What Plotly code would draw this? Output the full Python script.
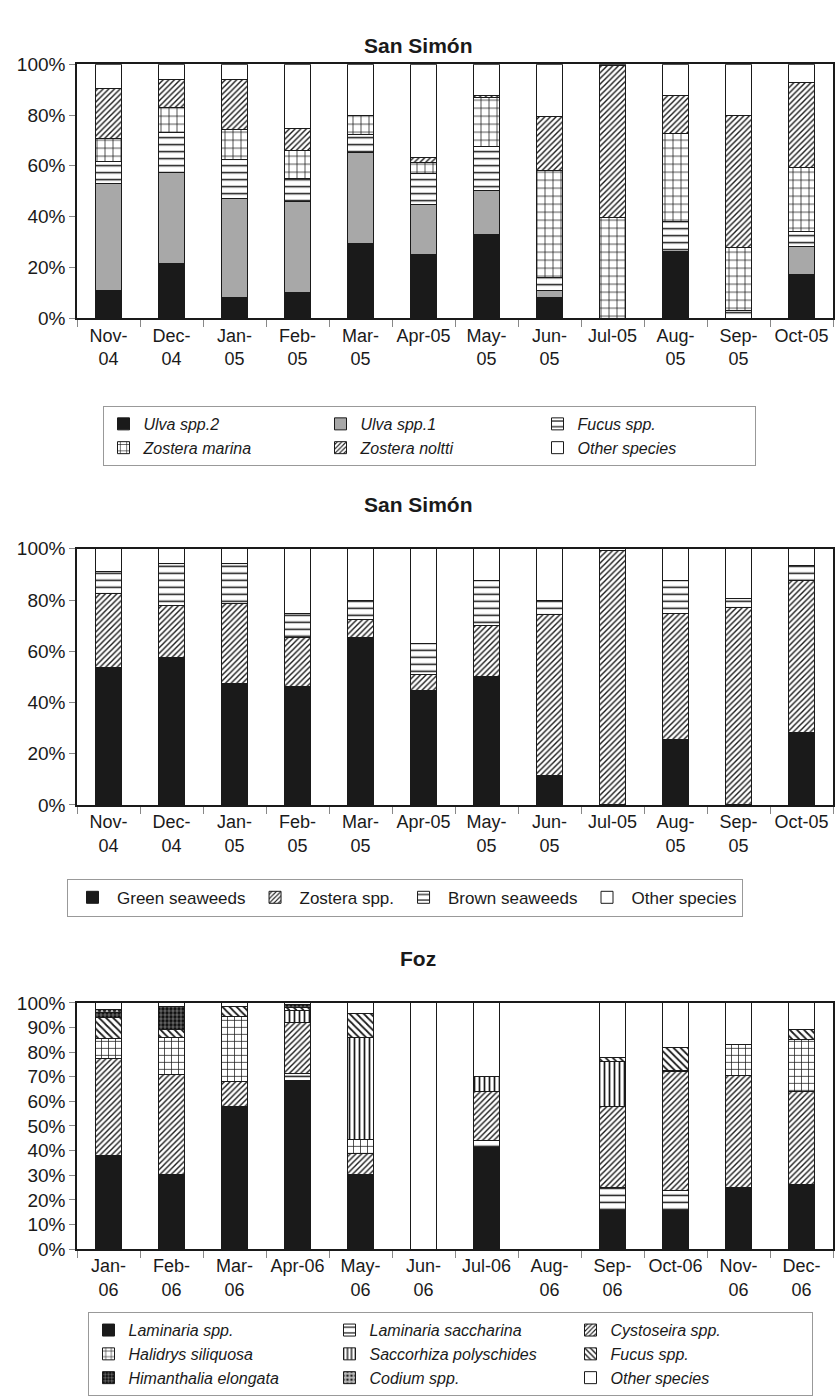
import plotly.graph_objects as go

# ---------------- data ----------------
months_ss = ["Nov-04", "Dec-04", "Jan-05", "Feb-05", "Mar-05", "Apr-05",
             "May-05", "Jun-05", "Jul-05", "Aug-05", "Sep-05", "Oct-05"]
ticks_ss = ["Nov-<br>04", "Dec-<br>04", "Jan-<br>05", "Feb-<br>05", "Mar-<br>05", "Apr-05",
            "May-<br>05", "Jun-<br>05", "Jul-05", "Aug-<br>05", "Sep-<br>05", "Oct-05"]

# San Simón, by species (% cover)
ulva2 = [11.0, 21.5, 8.1, 10.1, 29.4, 25.3, 33.0, 8.0, 0, 26.1, 0, 17.4]
ulva1 = [42.2, 35.9, 39.0, 35.8, 35.8, 19.5, 17.3, 3.0, 0, 0, 0, 11.0]
fucus_ss = [8.5, 15.9, 15.2, 9.3, 7.1, 12.0, 17.4, 5.1, 0, 12.0, 3.0, 5.8]
zostera_marina = [8.9, 9.5, 11.9, 11.0, 7.4, 4.5, 19.0, 42.0, 39.7, 34.8, 24.7, 25.2]
zostera_noltti = [20.0, 11.0, 19.6, 8.4, 0.3, 1.9, 0.8, 21.3, 59.7, 14.6, 52.3, 33.2]
other_ss1 = [9.4, 6.2, 6.2, 25.4, 20.0, 36.8, 12.5, 20.6, 0.6, 12.5, 20.0, 7.4]

# San Simón, by group (% cover)
green_seaweeds = [53.5, 57.7, 47.5, 46.2, 65.5, 44.5, 50.3, 11.5, 0, 25.5, 0, 28.4]
zostera_spp = [29.1, 20.1, 31.2, 19.0, 7.0, 6.5, 19.7, 62.7, 99.2, 49.1, 77.0, 59.3]
brown_seaweeds = [8.4, 16.3, 15.5, 9.4, 7.5, 12.0, 17.5, 5.5, 0.3, 13.0, 3.4, 5.6]
other_ss2 = [9.0, 5.9, 5.8, 25.4, 20.0, 37.0, 12.5, 20.3, 0.5, 12.4, 19.6, 6.7]

months_foz = ["Jan-06", "Feb-06", "Mar-06", "Apr-06", "May-06", "Jun-06",
              "Jul-06", "Aug-06", "Sep-06", "Oct-06", "Nov-06", "Dec-06"]
ticks_foz = ["Jan-<br>06", "Feb-<br>06", "Mar-<br>06", "Apr-06", "May-<br>06", "Jun-<br>06",
             "Jul-06", "Aug-<br>06", "Sep-<br>06", "Oct-06", "Nov-<br>06", "Dec-<br>06"]

# Foz, by species (% cover)
laminaria = [38.0, 30.5, 58.0, 68.5, 30.5, 0, 41.3, 0, 15.6, 15.6, 24.9, 26.3]
laminaria_sacch = [0, 0, 0, 3.0, 0, 0, 2.7, 0, 9.3, 8.4, 0, 0]
cystoseira = [39.3, 40.5, 10.0, 20.5, 8.2, 0, 20.0, 0, 33.1, 48.0, 45.8, 37.7]
halidrys = [8.2, 15.0, 26.5, 0, 6.0, 0, 0, 0, 0, 0, 12.3, 21.0]
saccorhiza = [0, 0, 0, 5.0, 41.3, 0, 6.0, 0, 18.0, 0.5, 0, 0]
fucus_foz = [8.5, 3.0, 4.0, 1.0, 9.6, 0, 0, 0, 2.0, 9.5, 0, 4.0]
himanthalia = [2.0, 9.5, 0, 1.5, 0, 0, 0, 0, 0, 0, 0, 0]
codium = [1.5, 0, 0, 0, 0, 0, 0, 0, 0, 0, 0, 0]
other_foz = [2.5, 1.5, 1.5, 0.5, 4.4, 100.0, 30.0, 0, 22.0, 18.0, 17.0, 11.0]

# ---------------- styles ----------------
FONT = "Liberation Sans, Arial, sans-serif"
EDGE = dict(color="#1a1a1a", width=1)


def solid(color):
    return dict(color=color, line=EDGE)


def hatch(shape, size=5, solidity=0.3, fg="#1a1a1a", bg="white"):
    return dict(color=bg, line=EDGE,
                pattern=dict(shape=shape, size=size, solidity=solidity,
                             fgcolor=fg, bgcolor=bg, fillmode="replace"))


fig = go.Figure()


def add(x, y, name, marker, axis, legend):
    fig.add_trace(go.Bar(x=x, y=y, name=name, marker=marker,
                         xaxis="x" + axis, yaxis="y" + axis, legend=legend,
                         hoverinfo="skip"))


# San Simón by species
add(months_ss, ulva2, "<i>Ulva spp.2</i>", solid("#1a1a1a"), "", "legend")
add(months_ss, ulva1, "<i>Ulva spp.1</i>", solid("#a8a8a8"), "", "legend")
add(months_ss, fucus_ss, "<i>Fucus spp.</i>", hatch("-", 7, 0.22), "", "legend")
add(months_ss, zostera_marina, "<i>Zostera marina</i>", hatch("+", 8, 0.18), "", "legend")
add(months_ss, zostera_noltti, "<i>Zostera noltti</i>", hatch("/", 4, 0.35), "", "legend")
add(months_ss, other_ss1, "<i>Other species</i>", solid("white"), "", "legend")

# San Simón by group
add(months_ss, green_seaweeds, "Green seaweeds", solid("#1a1a1a"), "2", "legend2")
add(months_ss, zostera_spp, "Zostera spp.", hatch("/", 4, 0.35), "2", "legend2")
add(months_ss, brown_seaweeds, "Brown seaweeds", hatch("-", 7, 0.22), "2", "legend2")
add(months_ss, other_ss2, "Other species", solid("white"), "2", "legend2")

# Foz by species
add(months_foz, laminaria, "<i>Laminaria spp.</i>", solid("#1a1a1a"), "3", "legend3")
add(months_foz, laminaria_sacch, "<i>Laminaria saccharina</i>", hatch("-", 7, 0.22), "3", "legend3")
add(months_foz, cystoseira, "<i>Cystoseira spp.</i>", hatch("/", 4, 0.35), "3", "legend3")
add(months_foz, halidrys, "<i>Halidrys siliquosa</i>", hatch("+", 7, 0.2), "3", "legend3")
add(months_foz, saccorhiza, "<i>Saccorhiza polyschides</i>", hatch("|", 5, 0.35), "3", "legend3")
add(months_foz, fucus_foz, "<i>Fucus spp.</i>", hatch("\\", 5, 0.35), "3", "legend3")
add(months_foz, himanthalia, "<i>Himanthalia elongata</i>", hatch(".", 4, 0.55, "#111", "#666"), "3", "legend3")
add(months_foz, codium, "<i>Codium spp.</i>", hatch(".", 5, 0.35, "#222", "#bbb"), "3", "legend3")
add(months_foz, other_foz, "<i>Other species</i>", solid("white"), "3", "legend3")

H = 1399.0
L, W = 77.0, 756.0


def py(px):
    return 1 - px / H


def px_x(px):
    return (px - L) / W


xtickfont = dict(family=FONT, size=18, color="#1a1a1a")
ytickfont = dict(family=FONT, size=19, color="#1a1a1a")


def xax(cats, labels, anchor):
    return dict(type="category", categoryorder="array", categoryarray=cats,
                tickmode="array", tickvals=cats, ticktext=labels, tickangle=0,
                tickson="boundaries", ticks="outside", ticklen=7, tickcolor="#888",
                showline=True, linecolor="#1a1a1a", linewidth=1.5, mirror=True,
                showgrid=False, zeroline=False, anchor=anchor, tickfont=xtickfont,
                fixedrange=True)


def yax(dom, dtick, anchor):
    return dict(domain=dom, range=[0, 100], dtick=dtick, ticksuffix="%",
                ticks="outside", ticklen=6, tickcolor="#888",
                showline=True, linecolor="#1a1a1a", linewidth=1.5, mirror=True,
                showgrid=False, zeroline=False, anchor=anchor, tickfont=ytickfont,
                fixedrange=True)


legend_common = dict(orientation="h", xanchor="center", yanchor="top",
                     bgcolor="white", bordercolor="#999", borderwidth=1,
                     traceorder="normal", itemwidth=30, itemclick=False,
                     itemdoubleclick=False)

title_font = dict(family=FONT, size=21, color="#1a1a1a", weight="bold")

fig.update_layout(
    width=836, height=1399,
    margin=dict(l=77, r=3, t=0, b=0),
    paper_bgcolor="white", plot_bgcolor="white",
    barmode="stack", bargap=0.59,
    font=dict(family=FONT, color="#1a1a1a"),
    xaxis=xax(months_ss, ticks_ss, "y"),
    yaxis=yax([py(313), py(55)], 20, "x"),
    xaxis2=xax(months_ss, ticks_ss, "y2"),
    yaxis2=yax([py(807), py(547)], 20, "x2"),
    xaxis3=xax(months_foz, ticks_foz, "y3"),
    yaxis3=yax([py(1258), py(1008)], 10, "x3"),
    legend=dict(legend_common, x=px_x(429), y=py(402),
                entrywidth=172, font=dict(family=FONT, size=16)),
    legend2=dict(legend_common, x=px_x(405), y=py(882), itemwidth=39,
                 font=dict(family=FONT, size=17)),
    legend3=dict(legend_common, x=px_x(450), y=py(1322),
                 entrywidth=196, font=dict(family=FONT, size=16)),
    annotations=[
        dict(text="San Simón", x=px_x(418), y=py(22), xref="paper", yref="paper",
             showarrow=False, font=title_font),
        dict(text="San Simón", x=px_x(418), y=py(502), xref="paper", yref="paper",
             showarrow=False, font=title_font),
        dict(text="Foz", x=px_x(418), y=py(977), xref="paper", yref="paper",
             showarrow=False, font=title_font),
    ],
)

fig.write_html("out.html")
